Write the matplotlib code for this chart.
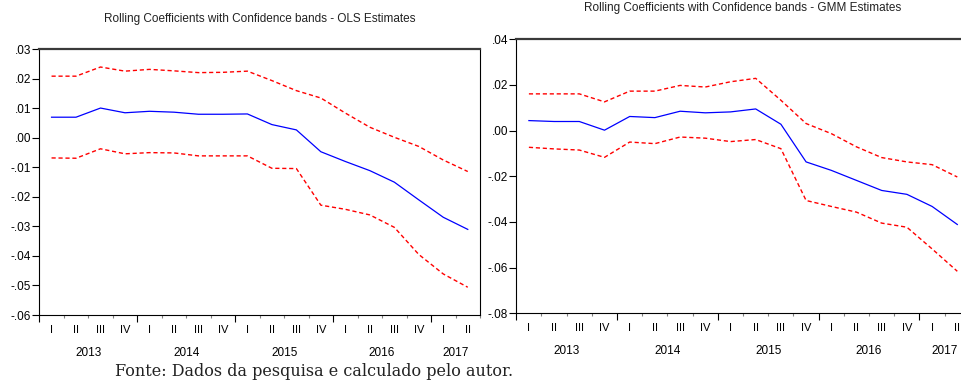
import numpy as np
import matplotlib
matplotlib.use('Agg')
import matplotlib.pyplot as plt
from matplotlib.ticker import FuncFormatter
from matplotlib.transforms import offset_copy

plt.rcParams['font.family'] = ['Liberation Sans', 'DejaVu Sans']

# quarterly rolling window, 2013Q1 - 2017Q2
quarters = ['I', 'II', 'III', 'IV'] * 4 + ['I', 'II']
years = ['2013', '2014', '2015', '2016', '2017']

ols_coef = [0.0070, 0.0070, 0.0101, 0.0085, 0.0090, 0.0087, 0.0080, 0.0080, 0.0081,
            0.0045, 0.0027, -0.0047, -0.0080, -0.0111, -0.0150, -0.0210, -0.0269, -0.0310]
ols_upper = [0.0209, 0.0209, 0.0240, 0.0226, 0.0232, 0.0227, 0.0221, 0.0222, 0.0226,
             0.0194, 0.0160, 0.0135, 0.0084, 0.0036, 0.0002, -0.0029, -0.0075, -0.0114]
ols_lower = [-0.0068, -0.0069, -0.0037, -0.0054, -0.0050, -0.0051, -0.0061, -0.0061, -0.0061,
             -0.0103, -0.0104, -0.0228, -0.0242, -0.0261, -0.0303, -0.0395, -0.0461, -0.0506]

gmm_coef = [0.0044, 0.0040, 0.0040, 0.0002, 0.0062, 0.0057, 0.0085, 0.0078, 0.0082,
            0.0095, 0.0028, -0.0137, -0.0174, -0.0218, -0.0262, -0.0279, -0.0332, -0.0411]
gmm_upper = [0.0161, 0.0161, 0.0161, 0.0126, 0.0173, 0.0173, 0.0198, 0.0191, 0.0214,
             0.0229, 0.0133, 0.0031, -0.0013, -0.0071, -0.0118, -0.0137, -0.0149, -0.0203]
gmm_lower = [-0.0073, -0.0080, -0.0085, -0.0117, -0.0050, -0.0057, -0.0028, -0.0033, -0.0048,
             -0.0039, -0.0079, -0.0306, -0.0332, -0.0357, -0.0405, -0.0423, -0.0518, -0.0616]


def dotless(v, pos):
    if abs(v) < 1e-9:
        v = 0.0
    return f'{v:.2f}'.replace('0.', '.', 1)


def draw_panel(ax, coef, upper, lower, ylo, yhi, ystep):
    x = np.arange(len(quarters))
    ax.plot(x, upper, color='#ff0000', lw=1.0, linestyle=(0, (3, 2)))
    ax.plot(x, lower, color='#ff0000', lw=1.0, linestyle=(0, (3, 2)))
    ax.plot(x, coef, color='#0000ff', lw=0.9)

    ax.set_xlim(-0.5, len(quarters) - 0.5)
    ax.set_ylim(ylo, yhi)
    ax.set_yticks(np.arange(ylo, yhi + ystep / 2, ystep))
    ax.yaxis.set_major_formatter(FuncFormatter(dotless))

    bounds = np.arange(len(quarters) + 1) - 0.5
    ax.set_xticks(bounds[::4])
    ax.set_xticks([b for i, b in enumerate(bounds) if i % 4], minor=True)
    ax.tick_params(axis='x', which='major', length=5, width=0.8, labelbottom=False)
    ax.tick_params(axis='x', which='minor', length=2.2, width=0.8, color='#808080')
    ax.tick_params(axis='y', length=5, width=0.8, pad=1, labelsize=8.5)

    for side in ['left', 'right', 'bottom']:
        ax.spines[side].set_linewidth(0.8)
        ax.spines[side].set_color('black')
    ax.spines['top'].set_linewidth(1.6)
    ax.spines['top'].set_color('#3a3a3a')

    # quarter and year labels under the axis
    trans = ax.get_xaxis_transform()
    qtrans = offset_copy(trans, fig=ax.figure, y=-10.8, units='points')
    ytrans = offset_copy(trans, fig=ax.figure, y=-27.5, units='points')
    for i, q in enumerate(quarters):
        ax.text(i, 0, q, transform=qtrans, ha='center', va='center', fontsize=8)
    for j, yr in enumerate(years):
        ax.text(np.mean(x[4 * j:4 * j + 4]), 0, yr, transform=ytrans,
                ha='center', va='center', fontsize=8.5)


fig = plt.figure(figsize=(9.62, 3.85), dpi=100)

ax1 = fig.add_axes([39.3 / 962, 70 / 385, 440.7 / 962, 265.7 / 385])
draw_panel(ax1, ols_coef, ols_upper, ols_lower, -0.06, 0.03, 0.01)

ax2 = fig.add_axes([516.3 / 962, 71.7 / 385, 453.6 / 962, 274 / 385])
draw_panel(ax2, gmm_coef, gmm_upper, gmm_lower, -0.08, 0.04, 0.02)

fig.text(259.7 / 962, 1 - 19 / 385, 'Rolling Coefficients with Confidence bands - OLS Estimates',
         ha='center', va='center', fontsize=8.5, color='#222222')
fig.text(743 / 962, 1 - 7.5 / 385, 'Rolling Coefficients with Confidence bands - GMM Estimates',
         ha='center', va='center', fontsize=8.5, color='#222222')

fig.text(115 / 962, 1 - 372 / 385, 'Fonte: Dados da pesquisa e calculado pelo autor.',
         ha='left', va='center', fontsize=11.5, family=['DejaVu Serif'],
         color='#222222')

fig.savefig('out.png', dpi=100)
